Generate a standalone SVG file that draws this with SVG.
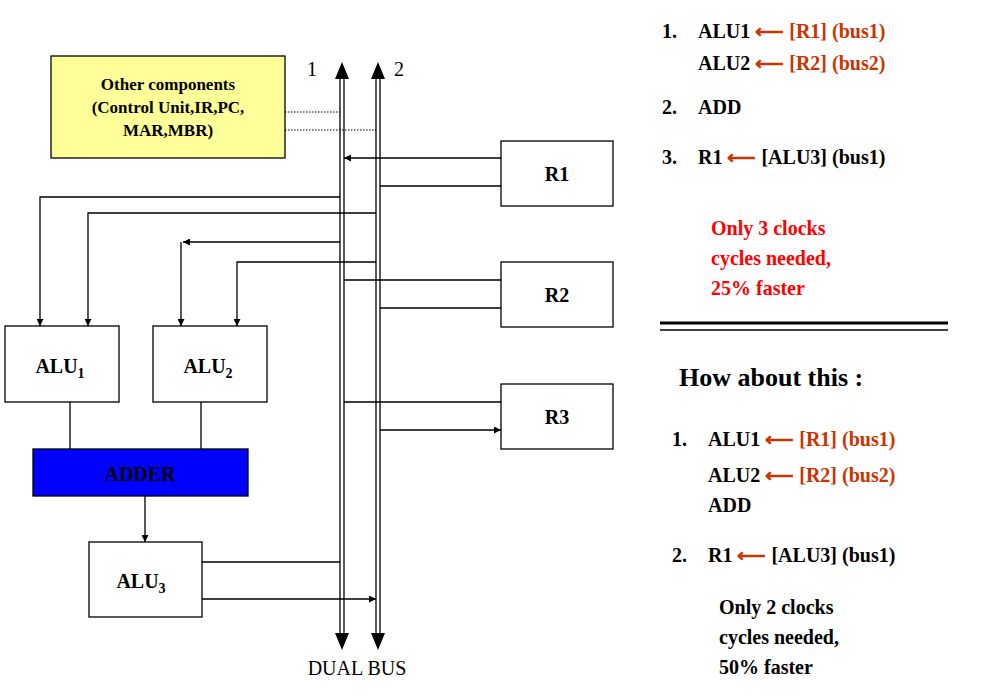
<svg xmlns="http://www.w3.org/2000/svg" width="991" height="699" viewBox="0 0 991 699">
<style>
text{font-family:"Liberation Serif",serif;}
.b{font-weight:bold;font-size:20px;}
.box{fill:#fff;stroke:#000;stroke-width:1.3;}
.ln{stroke:#000;stroke-width:1.3;fill:none;}
.red{fill:#cc3300;}
.r{fill:#ff0000;}
</style>
<defs>
<marker id="a" viewBox="0 0 10 10" refX="10" refY="5" markerWidth="7" markerHeight="7" orient="auto-start-reverse" markerUnits="userSpaceOnUse"><path d="M0,0L10,5L0,10z"/></marker>
<marker id="big" viewBox="0 0 10 10" refX="10" refY="5" markerWidth="13" markerHeight="13" orient="auto" markerUnits="userSpaceOnUse"><path d="M0,0L10,5L0,10z"/></marker>
</defs>
<rect width="991" height="699" fill="#fff"/>
<g id="connectors">
<path class="ln" d="M340,78V640M344,78V640M376,78V640M380,78V640"/>
<path d="M342,62L335,79H349z M378,62L371,79H385z M342,650L335,633H349z M378,650L371,633H385z"/>
<path d="M285,112H340M285,130H376" stroke="#000" stroke-width="1" stroke-dasharray="1.5,1.5"/>
<path class="ln" d="M344,158H501M380,186H501M344,280H501M380,308H501M344,402H501M380,430H501" marker-start="url(#a)" marker-end="url(#a)"/>
<path class="ln" d="M340,197H40V326" marker-end="url(#a)"/>
<path class="ln" d="M376,213H88V326" marker-end="url(#a)"/>
<path class="ln" d="M340,242H183" marker-end="url(#a)"/>
<path class="ln" d="M181,242V326" marker-end="url(#a)"/>
<path class="ln" d="M376,262H237V326" marker-end="url(#a)"/>
<path class="ln" d="M70,402V449M201,402V449M145,496V542" marker-end="url(#a)"/>
<path class="ln" d="M202,562H340M202,599H376" marker-end="url(#a)"/>
</g>
<g id="other"><rect x="51" y="56" width="234" height="102" fill="#ffff99" stroke="#000" stroke-width="1.3"/>
<text x="168" y="90" text-anchor="middle" style="font-weight:bold;font-size:17px">Other components</text>
<text x="168" y="113" text-anchor="middle" style="font-weight:bold;font-size:17px">(Control Unit,IR,PC,</text>
<text x="168" y="136" text-anchor="middle" style="font-weight:bold;font-size:17px">MAR,MBR)</text></g>
<g id="R1"><rect class="box" x="501" y="141" width="112" height="65"/><text class="b" x="557" y="181" text-anchor="middle">R1</text></g>
<g id="R2"><rect class="box" x="501" y="262" width="112" height="65"/><text class="b" x="557" y="302" text-anchor="middle">R2</text></g>
<g id="R3"><rect class="box" x="501" y="384" width="112" height="65"/><text class="b" x="557" y="424" text-anchor="middle">R3</text></g>
<g id="ALU1"><rect class="box" x="5" y="326" width="114" height="76"/><text class="b" x="60" y="373" text-anchor="middle">ALU<tspan font-size="14" dy="5">1</tspan></text></g>
<g id="ALU2"><rect class="box" x="153" y="326" width="114" height="76"/><text class="b" x="208" y="373" text-anchor="middle">ALU<tspan font-size="14" dy="5">2</tspan></text></g>
<g id="ADDER"><rect x="33" y="449" width="215" height="47" fill="#0000ff" stroke="#000" stroke-width="1.3"/><text class="b" x="140" y="481" text-anchor="middle">ADDER</text></g>
<g id="ALU3"><rect class="box" x="89" y="542" width="113" height="75"/><text class="b" x="141" y="588" text-anchor="middle">ALU<tspan font-size="14" dy="5">3</tspan></text></g>
<text x="312" y="76" font-size="20" text-anchor="middle">1</text>
<text x="399" y="76" font-size="20" text-anchor="middle">2</text>
<text x="357" y="675" font-size="20" text-anchor="middle">DUAL BUS</text>
<g id="notes">
<text class="b" x="662" y="38">1.</text><text class="b" x="698" y="38">ALU1 <tspan class="red">⟵ [R1] (bus1)</tspan></text>
<text class="b" x="698" y="70">ALU2 <tspan class="red">⟵ [R2] (bus2)</tspan></text>
<text class="b" x="662" y="114">2.</text><text class="b" x="698" y="114">ADD</text>
<text class="b" x="662" y="164">3.</text><text class="b" x="698" y="164">R1 <tspan class="red">⟵</tspan> [ALU3] (bus1)</text>
<text class="b r" x="711" y="235">Only 3 clocks</text>
<text class="b r" x="711" y="265">cycles needed,</text>
<text class="b r" x="711" y="295">25% faster</text>
<path d="M660,323H948" stroke="#000" stroke-width="3"/><path d="M660,330H948" stroke="#000" stroke-width="1.3"/>
<text x="679" y="386" style="font-weight:bold;font-size:26px">How about this :</text>
<text class="b" x="672" y="446">1.</text><text class="b" x="708" y="446">ALU1 <tspan class="red">⟵ [R1] (bus1)</tspan></text>
<text class="b" x="708" y="482">ALU2 <tspan class="red">⟵ [R2] (bus2)</tspan></text>
<text class="b" x="708" y="512">ADD</text>
<text class="b" x="672" y="562">2.</text><text class="b" x="708" y="562">R1 <tspan class="red">⟵</tspan> [ALU3] (bus1)</text>
<text class="b" x="719" y="614">Only 2 clocks</text>
<text class="b" x="719" y="644">cycles needed,</text>
<text class="b" x="719" y="674">50% faster</text>
</g>
</svg>
